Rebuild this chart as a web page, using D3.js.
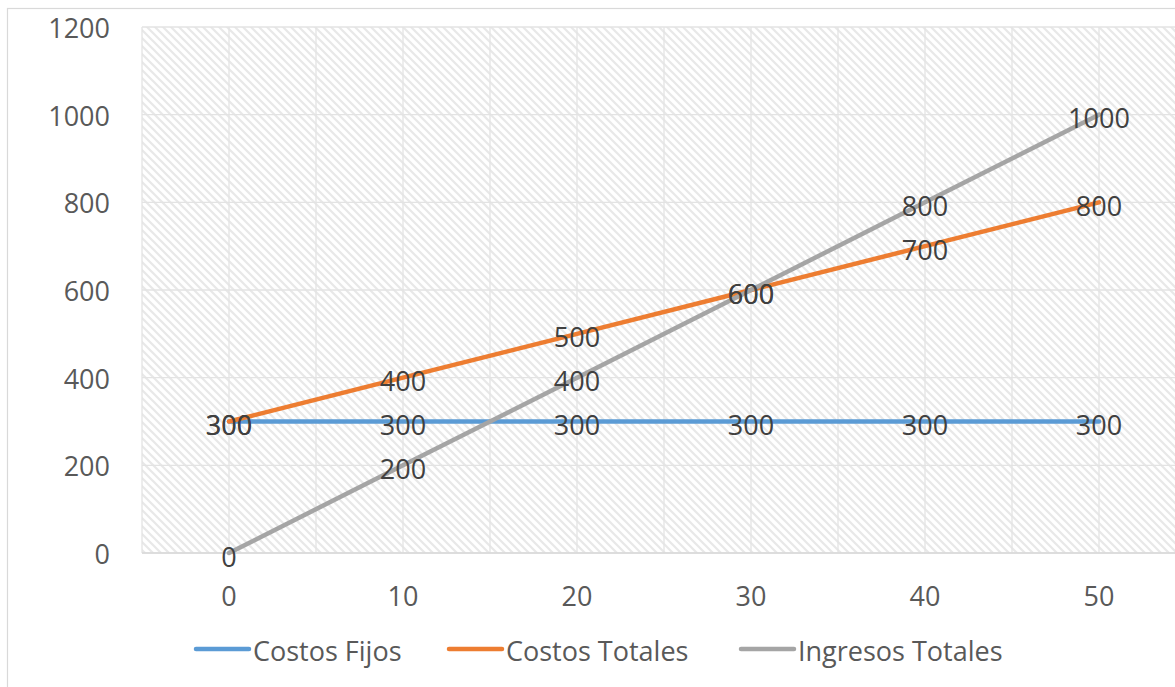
<!DOCTYPE html>
<html>
<head>
<meta charset="utf-8">
<script src="https://cdn.jsdelivr.net/npm/d3@7"></script>
<style>
  body { margin: 0; background: #fff; }
  svg { display: block; font-family: "Open Sans", sans-serif; }
</style>
</head>
<body>
<svg width="1175" height="687"></svg>
<script>
// data
const categories = [0, 10, 20, 30, 40, 50]
const costosFijos = [300, 300, 300, 300, 300, 300]
const costosTotales = [300, 400, 500, 600, 700, 800]
const ingresosTotales = [0, 200, 400, 600, 800, 1000]
const yTicks = [0, 200, 400, 600, 800, 1000, 1200]

const seriesNames = ['Costos Fijos', 'Costos Totales', 'Ingresos Totales']
const seriesColors = ['#5B9BD5', '#ED7D31', '#A5A5A5']

const series = [costosFijos, costosTotales, ingresosTotales].map((vals, i) => ({
  name: seriesNames[i],
  color: seriesColors[i],
  values: vals.map((v, j) => ({cat: categories[j], val: v}))
}))

const plot = {left: 142, top: 27, bottom: 553, bandWidth: 174}

const svg = d3.select('svg')

// hatch fill of the plot area
const defs = svg.append('defs')
const pat = defs.append('pattern')
  .attr('id', 'hatch')
  .attr('patternUnits', 'userSpaceOnUse')
  .attr('width', 8).attr('height', 8)
pat.append('rect').attr('width', 8).attr('height', 8).attr('fill', '#fff')
pat.append('path')
  .attr('d', 'M-2,-2 L10,10 M-2,6 L2,10 M6,-2 L10,2')
  .attr('stroke', '#e8e8e8')
  .attr('stroke-width', 2.2)

// outer chart border
svg.append('rect')
  .attr('x', 7.5).attr('y', 8.5)
  .attr('width', 1200).attr('height', 700)
  .attr('fill', '#fff')
  .attr('stroke', '#d9d9d9')
  .attr('stroke-width', 1.2)

const x = d3.scaleBand()
  .domain(categories)
  .range([plot.left, plot.left + categories.length * plot.bandWidth])
  .padding(0)
const cx = c => x(c) + x.bandwidth() / 2

const y = d3.scaleLinear().domain([0, 1200]).range([plot.bottom, plot.top])

svg.append('rect')
  .attr('x', plot.left).attr('y', plot.top)
  .attr('width', categories.length * plot.bandWidth)
  .attr('height', plot.bottom - plot.top)
  .attr('fill', 'url(#hatch)')

// gridlines
const grid = svg.append('g').attr('stroke', '#e3e3e3').attr('stroke-width', 1.3)
yTicks.forEach(t => {
  grid.append('line')
    .attr('x1', plot.left).attr('x2', 1175)
    .attr('y1', y(t)).attr('y2', y(t))
})
const vx = []
categories.forEach(c => { vx.push(x(c)); vx.push(cx(c)) })
vx.forEach(v => {
  grid.append('line')
    .attr('x1', v).attr('x2', v)
    .attr('y1', plot.top).attr('y2', plot.bottom)
})

// axis baseline
svg.append('line')
  .attr('x1', plot.left).attr('x2', 1175)
  .attr('y1', plot.bottom).attr('y2', plot.bottom)
  .attr('stroke', '#d9d9d9').attr('stroke-width', 1.5)

// y axis labels
const yAxis = d3.axisLeft(y).tickValues(yTicks).tickFormat(d3.format('d')).tickSize(0).tickPadding(0)
svg.append('g')
  .attr('transform', 'translate(110,2)')
  .call(yAxis)
  .call(g => g.select('.domain').remove())
  .call(g => g.selectAll('text')
    .attr('font-family', '"Open Sans", sans-serif')
    .attr('font-size', 27)
    .attr('fill', '#595959'))

// x axis labels
const xAxis = d3.axisBottom(x).tickSize(0).tickPadding(0)
svg.append('g')
  .attr('transform', 'translate(0,' + (plot.bottom + 34) + ')')
  .call(xAxis)
  .call(g => g.select('.domain').remove())
  .call(g => g.selectAll('text')
    .attr('font-family', '"Open Sans", sans-serif')
    .attr('font-size', 27)
    .attr('fill', '#595959'))

// lines
const line = d3.line().x(d => cx(d.cat)).y(d => y(d.val))
series.forEach(s => {
  svg.append('path')
    .datum(s.values)
    .attr('d', line)
    .attr('fill', 'none')
    .attr('stroke', s.color)
    .attr('stroke-width', 4.5)
    .attr('stroke-linecap', 'round')
    .attr('stroke-linejoin', 'round')
})

// data labels, centred on the points
series.forEach(s => {
  svg.append('g').selectAll('text').data(s.values).enter()
    .append('text')
      .attr('x', d => cx(d.cat))
      .attr('y', d => y(d.val) + 3)
      .attr('text-anchor', 'middle')
      .attr('dominant-baseline', 'central')
      .attr('font-size', 27)
      .attr('fill', '#404040')
      .text(d => d.val)
})

// legend
const legendX = [196, 449, 741]
const legend = svg.append('g')
series.forEach((s, i) => {
  legend.append('line')
    .attr('x1', legendX[i]).attr('x2', legendX[i] + 53)
    .attr('y1', 649).attr('y2', 649)
    .attr('stroke', s.color)
    .attr('stroke-width', 4.5)
    .attr('stroke-linecap', 'round')
  legend.append('text')
    .attr('x', legendX[i] + 57)
    .attr('y', 650)
    .attr('dominant-baseline', 'central')
    .attr('font-size', 27)
    .attr('fill', '#595959')
    .text(s.name)
})
</script>
</body>
</html>
